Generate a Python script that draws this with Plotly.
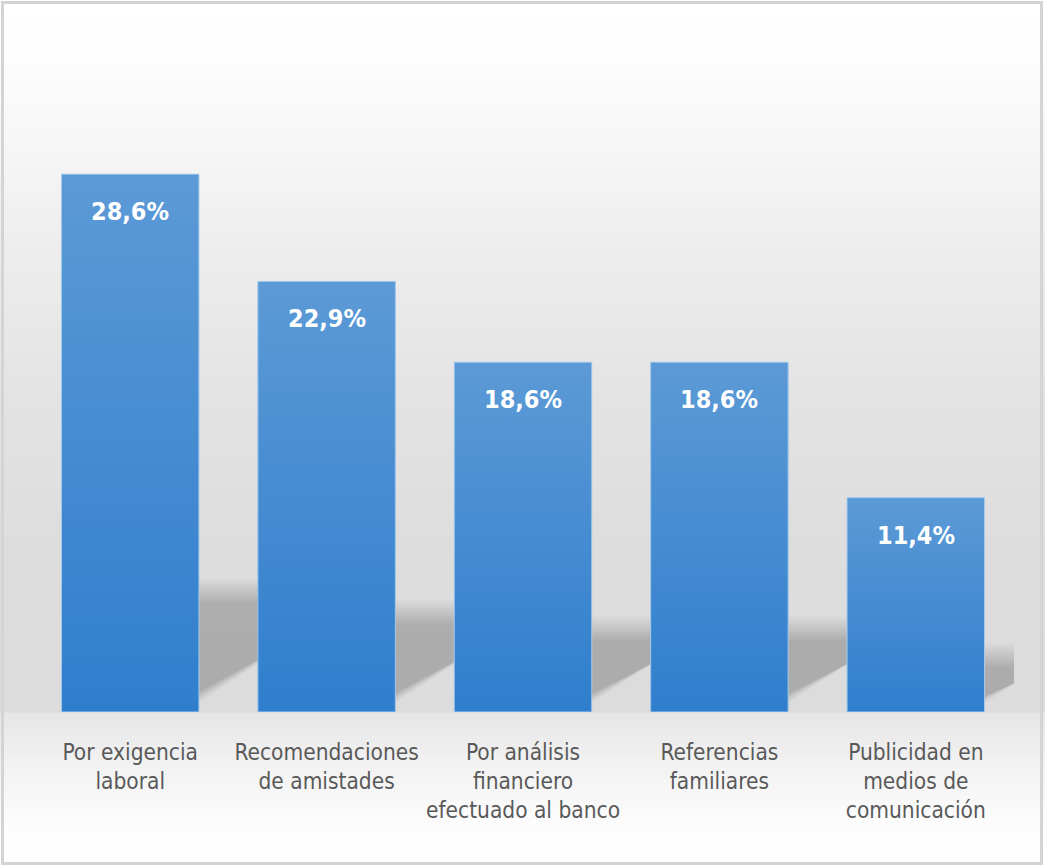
import base64
import struct
import zlib

import plotly.graph_objects as go

# --- data -------------------------------------------------------------
categories = [
    "Por exigencia<br>laboral",
    "Recomendaciones<br>de amistades",
    "Por análisis<br>financiero<br>efectuado al banco",
    "Referencias<br>familiares",
    "Publicidad en<br>medios de<br>comunicación",
]
values = [28.6, 22.9, 18.6, 18.6, 11.4]
value_labels = [f"{v:.1f}%".replace(".", ",") for v in values]

# --- geometry / style ----------------------------------------------------
W, H = 1045, 866
M_L, M_R, M_T, M_B = 32, 31, 20, 154
PLOT_W = W - M_L - M_R
PLOT_H = H - M_T - M_B
Y_MAX = 36.8
BAR_W = 0.70
PX_X = PLOT_W / 5.0          # pixels per x unit
PX_Y = PLOT_H / Y_MAX        # pixels per y unit

FONT = "DejaVu Sans Condensed, Liberation Sans Narrow, Roboto, sans-serif"
BAR_TOP = "#5c9ad6"
BAR_BOTTOM = "#2f7ecd"
BAR_EDGE = "#a8cbec"


def gradient_png(profile):
    """1-pixel-wide vertical gray gradient as a PNG data URI."""
    rows = b"".join(b"\x00" + bytes([g, g, g]) for g in profile)
    def chunk(tag, data):
        c = tag + data
        return struct.pack(">I", len(data)) + c + struct.pack(">I", zlib.crc32(c) & 0xFFFFFFFF)
    png = b"\x89PNG\r\n\x1a\n"
    png += chunk(b"IHDR", struct.pack(">IIBBBBB", 1, len(profile), 8, 2, 0, 0, 0))
    png += chunk(b"IDAT", zlib.compress(rows, 9))
    png += chunk(b"IEND", b"")
    return "data:image/png;base64," + base64.b64encode(png).decode()


def interp(stops, y):
    for (y0, g0), (y1, g1) in zip(stops, stops[1:]):
        if y0 <= y <= y1:
            if y1 == y0:
                return g1
            return g0 + (g1 - g0) * (y - y0) / (y1 - y0)
    return stops[-1][1]


base_y = M_T + PLOT_H
bg_stops = [(0, 255), (60, 253), (150, 246), (250, 237), (400, 227),
            (550, 221), (base_y, 220), (base_y + 1, 230), (760, 241),
            (820, 252), (H, 255)]
bg_profile = [int(round(interp(bg_stops, y + 0.5))) for y in range(H)]

fig = go.Figure()

# bars
fig.add_trace(go.Bar(
    x=list(range(len(values))), y=values, width=BAR_W,
    marker=dict(color=BAR_BOTTOM, line=dict(width=0)),
    hoverinfo="skip", showlegend=False,
))

# vertical colour gradient laid over each bar
for i, v in enumerate(values):
    x0, x1 = i - BAR_W / 2, i + BAR_W / 2
    fig.add_trace(go.Scatter(
        x=[x0, x1, x1, x0, x0], y=[0, 0, v, v, 0],
        mode="lines", fill="toself",
        line=dict(color=BAR_EDGE, width=1),
        fillgradient=dict(type="vertical",
                          colorscale=[[0, BAR_BOTTOM], [1, BAR_TOP]],
                          start=0, stop=v),
        hoverinfo="skip", showlegend=False,
    ))

# soft perspective shadows cast behind the bars (pixel offsets -> data units)
shapes = []
N_LAYERS, BLUR, ALPHA = 16, 12.0, 0.013
FOOT_IN = 25.0               # shadow foot ends this far inside the bar's right edge
TOP_REACH = 1.45             # top-right corner reach, relative to shadow height
for i, v in enumerate(values):
    x0, x1 = i - BAR_W / 2, i + BAR_W / 2
    h_px = 0.2 * v * PX_Y + 14
    reach = TOP_REACH * h_px
    for j in range(N_LAYERS):
        d = -BLUR + 2 * BLUR * j / (N_LAYERS - 1)
        bl = x0 + 10 / PX_X
        br = x1 + (d - FOOT_IN) / PX_X
        tl = x1 - (40 + d) / PX_X
        tr = x1 + (reach + d) / PX_X
        top = (h_px + d) / PX_Y
        path = f"M {bl},0 L {br},0 L {tr},{top} L {tl},{top} Z"
        shapes.append(dict(type="path", path=path, xref="x", yref="y",
                           fillcolor=f"rgba(0,0,0,{ALPHA})",
                           line=dict(width=0), layer="below"))

# outer frame
shapes.append(dict(type="rect", xref="paper", yref="paper",
                   x0=-(M_L - 2.5) / PLOT_W, x1=1 + (M_R - 3.5) / PLOT_W,
                   y0=-(M_B - 2.5) / PLOT_H, y1=1 + (M_T - 2.5) / PLOT_H,
                   line=dict(color="#d4d4d4", width=3), layer="above"))

# value labels inside the bars
annotations = [
    dict(x=i, y=v, text=f"<b>{t}</b>", showarrow=False, yanchor="top",
         yshift=-21, font=dict(family=FONT, size=25, color="white"))
    for i, (v, t) in enumerate(zip(values, value_labels))
]

fig.update_layout(
    width=W, height=H,
    margin=dict(l=M_L, r=M_R, t=M_T, b=M_B),
    paper_bgcolor="white",
    plot_bgcolor="rgba(0,0,0,0)",
    bargap=0.3,
    shapes=shapes,
    annotations=annotations,
    images=[dict(source=gradient_png(bg_profile), xref="paper", yref="paper",
                 x=-M_L / PLOT_W, y=1 + M_T / PLOT_H,
                 sizex=W / PLOT_W, sizey=H / PLOT_H,
                 sizing="stretch", xanchor="left", yanchor="top",
                 layer="below")],
    xaxis=dict(range=[-0.5, 4.5], tickvals=list(range(len(categories))),
               ticktext=categories, showgrid=False, zeroline=False,
               showline=False, ticks="", fixedrange=True, tickangle=0,
               automargin=False, ticklabelstandoff=24,
               tickfont=dict(family=FONT, size=22.5, color="#595959")),
    yaxis=dict(range=[0, Y_MAX], visible=False, fixedrange=True),
    showlegend=False,
)

fig.write_html("out.html")
